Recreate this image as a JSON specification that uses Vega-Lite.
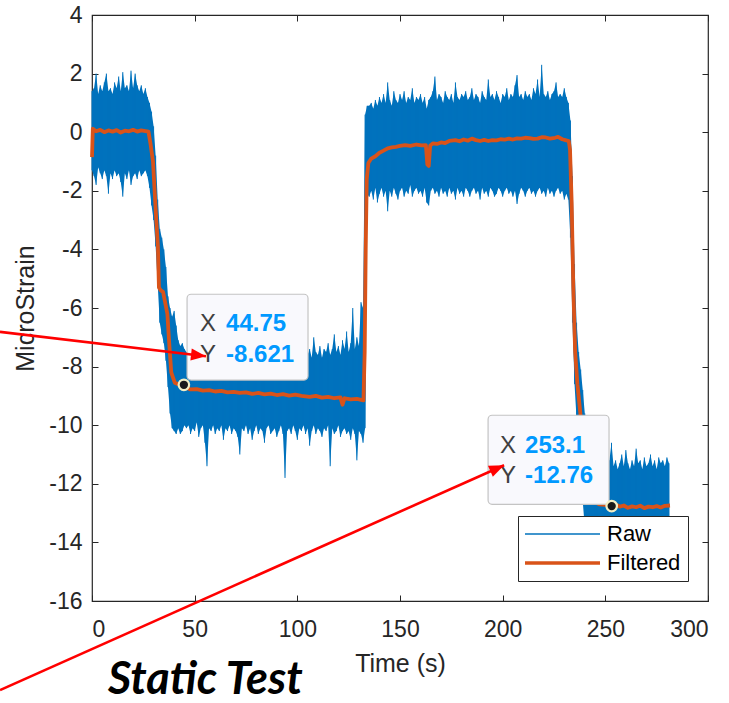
{
  "$schema": "https://vega.github.io/schema/vega-lite/v6.json",
  "width": 616,
  "height": 586,
  "autosize": {"type": "none"},
  "padding": {"left": 92, "top": 15, "right": 21, "bottom": 102},
  "background": "white",
  "title": {"text": "Static Test", "orient": "bottom", "anchor": "start", "frame": "group", "font": "Lato", "fontSize": 45, "fontWeight": "bold", "fontStyle": "italic", "color": "#000000", "dx": 16, "offset": -33},
  "config": {
    "view": {"stroke": "#262626", "strokeWidth": 1.2},
    "axis": {"grid": false, "domain": false, "tickColor": "#262626", "tickWidth": 1, "labelFont": "Liberation Sans", "titleFont": "Liberation Sans", "labelColor": "#262626", "titleColor": "#262626", "labelFontSize": 23, "titleFontSize": 25, "titleFontWeight": "normal"}
  },
  "datasets": {
    "raw": [
      {"t":0,"lo":-1.3,"hi":1.4},{"t":1,"lo":-1.5,"hi":1.5},{"t":2,"lo":-1.8,"hi":2.0},{"t":3,"lo":-1.2,"hi":1.3},{"t":4,"lo":-1.4,"hi":1.6},{"t":5,"lo":-1.6,"hi":1.4},{"t":6,"lo":-1.3,"hi":1.7},{"t":7,"lo":-1.5,"hi":2.0},{"t":8,"lo":-2.1,"hi":1.4},{"t":9,"lo":-1.4,"hi":1.5},
      {"t":10,"lo":-1.6,"hi":1.3},{"t":11,"lo":-1.3,"hi":1.7},{"t":12,"lo":-1.5,"hi":1.5},{"t":13,"lo":-1.4,"hi":1.9},{"t":14,"lo":-1.7,"hi":1.4},{"t":15,"lo":-2.2,"hi":2.05},{"t":16,"lo":-1.4,"hi":1.5},{"t":17,"lo":-1.6,"hi":1.6},{"t":18,"lo":-1.3,"hi":1.4},{"t":19,"lo":-1.8,"hi":2.1},
      {"t":20,"lo":-1.5,"hi":1.5},{"t":21,"lo":-1.4,"hi":2.0},{"t":22,"lo":-1.6,"hi":1.6},{"t":23,"lo":-1.3,"hi":1.4},{"t":24,"lo":-1.5,"hi":1.6},{"t":25,"lo":-1.4,"hi":1.3},{"t":26,"lo":-1.3,"hi":1.5},{"t":27,"lo":-1.5,"hi":1.2},{"t":28,"lo":-1.9,"hi":1.0},{"t":29,"lo":-2.5,"hi":0.7},
      {"t":30,"lo":-3.0,"hi":0.2},{"t":31,"lo":-3.9,"hi":-0.8},{"t":32,"lo":-5.2,"hi":-2.3},{"t":33,"lo":-6.5,"hi":-3.3},{"t":34,"lo":-6.9,"hi":-3.6},{"t":35,"lo":-7.2,"hi":-4.0},{"t":36,"lo":-7.8,"hi":-4.6},{"t":37,"lo":-8.7,"hi":-5.6},{"t":38,"lo":-9.6,"hi":-6.0},{"t":39,"lo":-10.1,"hi":-6.3},
      {"t":40,"lo":-10.2,"hi":-6.1},{"t":41,"lo":-10.3,"hi":-6.6},{"t":42,"lo":-10.1,"hi":-7.1},{"t":43,"lo":-10.3,"hi":-7.3},{"t":44,"lo":-10.2,"hi":-7.2},{"t":45,"lo":-10.0,"hi":-7.4},{"t":46,"lo":-10.1,"hi":-7.5},{"t":47,"lo":-10.0,"hi":-7.7},{"t":48,"lo":-10.3,"hi":-7.4},{"t":49,"lo":-10.1,"hi":-7.8},
      {"t":50,"lo":-10.2,"hi":-7.3},{"t":51,"lo":-9.9,"hi":-7.6},{"t":52,"lo":-10.4,"hi":-7.7},{"t":53,"lo":-10.1,"hi":-7.5},{"t":54,"lo":-10.0,"hi":-7.9},{"t":55,"lo":-10.6,"hi":-7.4},{"t":56,"lo":-11.4,"hi":-7.6},{"t":57,"lo":-10.1,"hi":-7.7},{"t":58,"lo":-10.2,"hi":-7.3},{"t":59,"lo":-10.0,"hi":-7.6},
      {"t":60,"lo":-10.3,"hi":-7.8},{"t":61,"lo":-10.1,"hi":-7.5},{"t":62,"lo":-10.2,"hi":-7.0},{"t":63,"lo":-10.0,"hi":-7.6},{"t":64,"lo":-10.5,"hi":-7.7},{"t":65,"lo":-10.1,"hi":-7.5},{"t":66,"lo":-10.2,"hi":-7.8},{"t":67,"lo":-10.0,"hi":-7.4},{"t":68,"lo":-10.3,"hi":-7.6},{"t":69,"lo":-10.1,"hi":-7.7},
      {"t":70,"lo":-10.2,"hi":-7.2},{"t":71,"lo":-10.4,"hi":-7.6},{"t":72,"lo":-11.0,"hi":-7.8},{"t":73,"lo":-10.1,"hi":-7.5},{"t":74,"lo":-10.2,"hi":-7.6},{"t":75,"lo":-10.0,"hi":-7.3},{"t":76,"lo":-10.3,"hi":-7.7},{"t":77,"lo":-10.1,"hi":-7.6},{"t":78,"lo":-10.5,"hi":-7.4},{"t":79,"lo":-10.2,"hi":-7.8},
      {"t":80,"lo":-10.0,"hi":-7.5},{"t":81,"lo":-10.3,"hi":-7.1},{"t":82,"lo":-10.1,"hi":-7.6},{"t":83,"lo":-10.2,"hi":-7.7},{"t":84,"lo":-10.6,"hi":-7.5},{"t":85,"lo":-10.1,"hi":-7.4},{"t":86,"lo":-10.0,"hi":-7.8},{"t":87,"lo":-10.3,"hi":-7.6},{"t":88,"lo":-10.2,"hi":-7.2},{"t":89,"lo":-10.1,"hi":-7.7},
      {"t":90,"lo":-10.4,"hi":-7.5},{"t":91,"lo":-10.2,"hi":-7.6},{"t":92,"lo":-10.0,"hi":-7.4},{"t":93,"lo":-10.3,"hi":-7.7},{"t":94,"lo":-11.8,"hi":-7.5},{"t":95,"lo":-10.2,"hi":-7.0},{"t":96,"lo":-10.1,"hi":-7.6},{"t":97,"lo":-10.3,"hi":-7.8},{"t":98,"lo":-10.0,"hi":-7.5},{"t":99,"lo":-10.2,"hi":-7.4},
      {"t":100,"lo":-10.5,"hi":-7.6},{"t":101,"lo":-10.1,"hi":-7.3},{"t":102,"lo":-10.2,"hi":-7.7},{"t":103,"lo":-10.0,"hi":-7.5},{"t":104,"lo":-10.3,"hi":-7.2},{"t":105,"lo":-10.1,"hi":-7.6},{"t":106,"lo":-10.7,"hi":-7.4},{"t":107,"lo":-10.2,"hi":-7.7},{"t":108,"lo":-10.0,"hi":-7.0},{"t":109,"lo":-10.3,"hi":-7.5},
      {"t":110,"lo":-10.1,"hi":-7.6},{"t":111,"lo":-10.2,"hi":-7.3},{"t":112,"lo":-10.4,"hi":-7.7},{"t":113,"lo":-10.1,"hi":-7.4},{"t":114,"lo":-10.2,"hi":-7.5},{"t":115,"lo":-10.0,"hi":-7.2},{"t":116,"lo":-11.4,"hi":-7.6},{"t":117,"lo":-10.1,"hi":-7.4},{"t":118,"lo":-10.3,"hi":-6.9},{"t":119,"lo":-10.2,"hi":-7.5},
      {"t":120,"lo":-10.0,"hi":-7.3},{"t":121,"lo":-10.4,"hi":-7.6},{"t":122,"lo":-10.2,"hi":-7.1},{"t":123,"lo":-10.1,"hi":-7.4},{"t":124,"lo":-10.3,"hi":-6.8},{"t":125,"lo":-10.2,"hi":-7.5},{"t":126,"lo":-10.5,"hi":-7.2},{"t":127,"lo":-10.1,"hi":-6.0},{"t":128,"lo":-10.3,"hi":-7.4},{"t":129,"lo":-11.2,"hi":-7.0},
      {"t":130,"lo":-10.2,"hi":-7.3},{"t":131,"lo":-10.3,"hi":-5.8},{"t":132,"lo":-10.6,"hi":-6.0},{"t":133,"lo":-10.1,"hi":0.6},{"t":134,"lo":-2.1,"hi":0.9},{"t":135,"lo":-2.2,"hi":0.9},{"t":136,"lo":-2.0,"hi":1.0},{"t":137,"lo":-2.3,"hi":0.8},{"t":138,"lo":-1.9,"hi":1.1},{"t":139,"lo":-2.4,"hi":0.9},
      {"t":140,"lo":-2.1,"hi":1.2},{"t":141,"lo":-1.9,"hi":1.0},{"t":142,"lo":-2.2,"hi":1.3},{"t":143,"lo":-2.0,"hi":1.0},{"t":144,"lo":-2.7,"hi":1.7},{"t":145,"lo":-2.0,"hi":1.1},{"t":146,"lo":-2.2,"hi":0.9},{"t":147,"lo":-1.9,"hi":1.4},{"t":148,"lo":-2.1,"hi":1.1},{"t":149,"lo":-2.3,"hi":1.0},
      {"t":150,"lo":-2.0,"hi":1.3},{"t":151,"lo":-1.9,"hi":1.1},{"t":152,"lo":-2.2,"hi":1.4},{"t":153,"lo":-2.0,"hi":1.0},{"t":154,"lo":-2.1,"hi":1.2},{"t":155,"lo":-1.8,"hi":1.1},{"t":156,"lo":-2.2,"hi":1.5},{"t":157,"lo":-2.0,"hi":1.0},{"t":158,"lo":-1.9,"hi":1.2},{"t":159,"lo":-2.1,"hi":1.1},
      {"t":160,"lo":-2.0,"hi":1.3},{"t":161,"lo":-2.2,"hi":1.0},{"t":162,"lo":-1.9,"hi":1.2},{"t":163,"lo":-2.4,"hi":0.8},{"t":164,"lo":-2.5,"hi":1.1},{"t":165,"lo":-2.0,"hi":1.2},{"t":166,"lo":-1.9,"hi":1.4},{"t":167,"lo":-2.1,"hi":1.9},{"t":168,"lo":-2.0,"hi":1.1},{"t":169,"lo":-2.2,"hi":1.3},
      {"t":170,"lo":-1.9,"hi":1.2},{"t":171,"lo":-2.1,"hi":1.0},{"t":172,"lo":-2.0,"hi":1.4},{"t":173,"lo":-2.2,"hi":1.2},{"t":174,"lo":-1.9,"hi":1.1},{"t":175,"lo":-2.1,"hi":1.3},{"t":176,"lo":-2.0,"hi":1.0},{"t":177,"lo":-2.3,"hi":1.7},{"t":178,"lo":-1.9,"hi":1.2},{"t":179,"lo":-2.1,"hi":1.1},
      {"t":180,"lo":-2.0,"hi":1.3},{"t":181,"lo":-2.2,"hi":1.2},{"t":182,"lo":-1.9,"hi":1.4},{"t":183,"lo":-2.0,"hi":1.1},{"t":184,"lo":-2.2,"hi":1.2},{"t":185,"lo":-2.0,"hi":1.5},{"t":186,"lo":-1.9,"hi":1.1},{"t":187,"lo":-2.1,"hi":1.3},{"t":188,"lo":-2.0,"hi":1.2},{"t":189,"lo":-2.3,"hi":1.0},
      {"t":190,"lo":-1.9,"hi":1.4},{"t":191,"lo":-2.1,"hi":1.2},{"t":192,"lo":-2.0,"hi":1.1},{"t":193,"lo":-2.2,"hi":1.8},{"t":194,"lo":-1.9,"hi":1.2},{"t":195,"lo":-2.0,"hi":1.3},{"t":196,"lo":-2.2,"hi":1.1},{"t":197,"lo":-2.1,"hi":1.4},{"t":198,"lo":-1.9,"hi":1.2},{"t":199,"lo":-2.0,"hi":1.0},
      {"t":200,"lo":-2.2,"hi":1.3},{"t":201,"lo":-2.0,"hi":1.2},{"t":202,"lo":-1.9,"hi":1.5},{"t":203,"lo":-2.1,"hi":1.1},{"t":204,"lo":-2.0,"hi":1.3},{"t":205,"lo":-2.2,"hi":1.2},{"t":206,"lo":-2.0,"hi":1.6},{"t":207,"lo":-2.45,"hi":1.95},{"t":208,"lo":-2.1,"hi":1.2},{"t":209,"lo":-1.9,"hi":1.3},
      {"t":210,"lo":-2.0,"hi":1.1},{"t":211,"lo":-2.2,"hi":1.4},{"t":212,"lo":-2.0,"hi":1.2},{"t":213,"lo":-1.9,"hi":1.3},{"t":214,"lo":-2.1,"hi":1.1},{"t":215,"lo":-2.0,"hi":1.5},{"t":216,"lo":-2.2,"hi":1.3},{"t":217,"lo":-2.0,"hi":1.8},{"t":218,"lo":-1.9,"hi":1.2},{"t":219,"lo":-2.1,"hi":2.3},
      {"t":220,"lo":-2.0,"hi":1.3},{"t":221,"lo":-2.2,"hi":1.2},{"t":222,"lo":-1.9,"hi":1.4},{"t":223,"lo":-2.1,"hi":1.1},{"t":224,"lo":-2.0,"hi":1.3},{"t":225,"lo":-2.2,"hi":1.4},{"t":226,"lo":-2.0,"hi":1.7},{"t":227,"lo":-1.9,"hi":1.2},{"t":228,"lo":-2.1,"hi":1.3},{"t":229,"lo":-2.0,"hi":1.2},
      {"t":230,"lo":-2.3,"hi":1.5},{"t":231,"lo":-2.1,"hi":1.2},{"t":232,"lo":-2.3,"hi":1.0},{"t":233,"lo":-3.6,"hi":0.4},{"t":234,"lo":-6.5,"hi":-1.5},{"t":235,"lo":-8.6,"hi":-4.5},{"t":236,"lo":-9.8,"hi":-6.5},{"t":237,"lo":-10.6,"hi":-7.5},{"t":238,"lo":-11.6,"hi":-8.1},{"t":239,"lo":-12.6,"hi":-8.8},
      {"t":240,"lo":-13.5,"hi":-9.6},{"t":241,"lo":-14.0,"hi":-10.2},{"t":242,"lo":-14.1,"hi":-10.9},{"t":243,"lo":-14.1,"hi":-11.3},{"t":244,"lo":-14.2,"hi":-11.5},{"t":245,"lo":-14.1,"hi":-11.2},{"t":246,"lo":-14.0,"hi":-11.4},{"t":247,"lo":-14.2,"hi":-11.3},{"t":248,"lo":-14.1,"hi":-11.5},{"t":249,"lo":-14.0,"hi":-11.1},
      {"t":250,"lo":-14.1,"hi":-11.4},{"t":251,"lo":-14.2,"hi":-11.3},{"t":252,"lo":-14.1,"hi":-11.2},{"t":253,"lo":-14.0,"hi":-10.6},{"t":254,"lo":-14.1,"hi":-11.4},{"t":255,"lo":-14.2,"hi":-11.2},{"t":256,"lo":-14.1,"hi":-11.5},{"t":257,"lo":-14.0,"hi":-11.3},{"t":258,"lo":-14.1,"hi":-11.0},{"t":259,"lo":-14.2,"hi":-11.4},
      {"t":260,"lo":-14.1,"hi":-10.85},{"t":261,"lo":-14.0,"hi":-11.3},{"t":262,"lo":-14.1,"hi":-11.5},{"t":263,"lo":-14.2,"hi":-11.2},{"t":264,"lo":-14.1,"hi":-11.4},{"t":265,"lo":-14.0,"hi":-10.8},{"t":266,"lo":-14.1,"hi":-11.3},{"t":267,"lo":-14.2,"hi":-11.2},{"t":268,"lo":-14.1,"hi":-11.5},{"t":269,"lo":-14.0,"hi":-11.1},
      {"t":270,"lo":-14.1,"hi":-11.4},{"t":271,"lo":-14.2,"hi":-11.3},{"t":272,"lo":-14.1,"hi":-11.0},{"t":273,"lo":-14.0,"hi":-11.4},{"t":274,"lo":-14.1,"hi":-11.2},{"t":275,"lo":-14.2,"hi":-11.5},{"t":276,"lo":-14.1,"hi":-11.1},{"t":277,"lo":-14.0,"hi":-11.3},{"t":278,"lo":-14.1,"hi":-11.2},{"t":279,"lo":-14.2,"hi":-11.4},
      {"t":280,"lo":-14.1,"hi":-11.1},{"t":281,"lo":-14.0,"hi":-11.3}
    ],
    "filt": [
      {"t":0,"v":-0.85},{"t":0.4,"v":0.12},{"t":2,"v":0.03},{"t":4,"v":0.08},{"t":6,"v":0.0},{"t":8,"v":0.06},{"t":10,"v":0.02},{"t":12,"v":0.07},{"t":14,"v":-0.01},{"t":16,"v":0.05},{"t":18,"v":0.03},{"t":20,"v":0.08},{"t":22,"v":0.02},{"t":24,"v":0.06},{"t":26,"v":0.04},{"t":27.5,"v":0.02},{"t":28.5,"v":-0.4},{"t":29.7,"v":-1.0},{"t":30.5,"v":-2.0},{"t":31.3,"v":-3.0},{"t":32.1,"v":-3.9},{"t":32.6,"v":-5.3},{"t":33.5,"v":-5.4},{"t":34.6,"v":-5.45},{"t":35.6,"v":-5.8},{"t":36.7,"v":-6.2},{"t":37.7,"v":-7.3},{"t":38.6,"v":-8.2},{"t":40.3,"v":-8.55},{"t":42.5,"v":-8.62},{"t":44.75,"v":-8.621},
      {"t":46,"v":-8.72},{"t":48,"v":-8.78},{"t":51,"v":-8.77},{"t":54,"v":-8.82},{"t":57,"v":-8.8},{"t":60,"v":-8.85},{"t":63,"v":-8.83},{"t":66,"v":-8.88},{"t":69,"v":-8.86},{"t":72,"v":-8.9},{"t":75,"v":-8.88},{"t":78,"v":-8.93},{"t":81,"v":-8.9},{"t":84,"v":-8.95},{"t":87,"v":-8.92},{"t":90,"v":-8.97},{"t":93,"v":-8.94},{"t":96,"v":-8.99},{"t":99,"v":-8.96},{"t":102,"v":-9.0},{"t":106,"v":-9.03},{"t":109,"v":-9.0},{"t":112,"v":-9.06},{"t":115,"v":-9.03},{"t":118,"v":-9.08},{"t":121,"v":-9.05},{"t":122,"v":-9.3},{"t":123,"v":-9.08},{"t":126,"v":-9.12},{"t":129,"v":-9.1},{"t":132.2,"v":-9.15},
      {"t":132.8,"v":-7.5},{"t":133.3,"v":-4.0},{"t":133.8,"v":-1.6},{"t":134.6,"v":-1.05},{"t":136,"v":-0.9},{"t":138,"v":-0.82},{"t":140,"v":-0.7},{"t":142,"v":-0.63},{"t":144,"v":-0.55},{"t":146,"v":-0.52},{"t":148,"v":-0.5},{"t":150,"v":-0.47},{"t":152.5,"v":-0.44},{"t":155,"v":-0.47},{"t":158,"v":-0.42},{"t":160.5,"v":-0.45},{"t":162.6,"v":-0.44},{"t":163.3,"v":-1.1},{"t":164,"v":-1.15},{"t":164.7,"v":-0.46},{"t":166,"v":-0.38},{"t":168,"v":-0.4},{"t":170,"v":-0.35},{"t":172,"v":-0.37},{"t":174,"v":-0.3},{"t":177,"v":-0.27},{"t":179,"v":-0.31},{"t":181,"v":-0.25},{"t":183,"v":-0.29},{"t":185,"v":-0.22},{"t":187,"v":-0.27},{"t":189,"v":-0.3},{"t":191,"v":-0.26},{"t":193,"v":-0.3},{"t":195,"v":-0.27},{"t":197,"v":-0.28},{"t":199,"v":-0.24},{"t":201,"v":-0.25},{"t":203,"v":-0.22},{"t":205,"v":-0.25},{"t":207,"v":-0.21},{"t":209,"v":-0.22},{"t":211,"v":-0.19},{"t":213,"v":-0.2},{"t":215,"v":-0.23},{"t":217,"v":-0.22},{"t":219,"v":-0.17},{"t":221,"v":-0.18},{"t":223,"v":-0.22},{"t":225.5,"v":-0.19},{"t":227,"v":-0.16},{"t":229,"v":-0.24},{"t":231,"v":-0.28},{"t":232.2,"v":-0.3},
      {"t":232.8,"v":-0.6},{"t":233.6,"v":-2.4},{"t":234.4,"v":-5.3},{"t":235.3,"v":-7.5},{"t":236.4,"v":-8.6},{"t":237.7,"v":-9.5},{"t":239,"v":-10.5},{"t":240.5,"v":-11.6},{"t":242,"v":-12.3},{"t":244,"v":-12.6},{"t":247,"v":-12.7},{"t":250,"v":-12.72},{"t":253.1,"v":-12.76},{"t":255,"v":-12.7},{"t":257,"v":-12.78},{"t":259,"v":-12.74},{"t":261,"v":-12.82},{"t":263,"v":-12.77},{"t":265,"v":-12.8},{"t":267,"v":-12.75},{"t":269,"v":-12.83},{"t":271,"v":-12.78},{"t":273,"v":-12.8},{"t":275,"v":-12.76},{"t":277,"v":-12.81},{"t":279,"v":-12.75},{"t":281.5,"v":-12.74}
    ],
    "tips": [{"t":44.75,"v":-8.621},{"t":253.1,"v":-12.76}],
    "boxes": [{"x1":46.3,"x2":105.2,"y1":-5.53,"y2":-8.46},{"x1":192.9,"x2":251.8,"y1":-9.66,"y2":-12.70}],
    "tipLab": [{"t":52.6,"v":-6.55,"s":"X"},{"t":52.6,"v":-7.61,"s":"Y"},{"t":198.7,"v":-10.72,"s":"X"},{"t":198.7,"v":-11.74,"s":"Y"}],
    "tipVal": [{"t":65.3,"v":-6.55,"s":"44.75"},{"t":65.3,"v":-7.61,"s":"-8.621"},{"t":210.9,"v":-10.72,"s":"253.1"},{"t":210.9,"v":-11.74,"s":"-12.76"}],
    "arrows": [{"id":1,"t":-44.81,"v":-6.816,"t2":55.5,"v2":-7.645},{"id":2,"t":-44.81,"v":-19.04,"t2":200.7,"v2":-11.365}]
  },
  "layer": [
    {
      "data": {"name": "raw"},
      "mark": {"type": "area", "color": "#0072BD", "opacity": 1, "interpolate": "linear"},
      "encoding": {
        "x": {"field": "t", "type": "quantitative", "scale": {"domain": [0, 300], "nice": false, "zero": false}, "axis": null},
        "y": {"field": "lo", "type": "quantitative", "scale": {"domain": [-16, 4], "nice": false, "zero": false}, "axis": null},
        "y2": {"field": "hi"}
      }
    },
    {
      "data": {"name": "raw"},
      "mark": {"type": "rule", "strokeWidth": 1, "strokeCap": "butt"},
      "encoding": {
        "x": {"field": "t", "type": "quantitative", "scale": {"domain": [0, 300], "nice": false, "zero": false}, "axis": {"orient": "bottom", "values": [0, 50, 100, 150, 200, 250, 300], "tickSize": -6, "labelPadding": 23, "title": "Time (s)", "titlePadding": 10}},
        "y": {"field": "lo", "type": "quantitative", "scale": {"domain": [-16, 4], "nice": false, "zero": false}, "axis": {"orient": "left", "values": [-16, -14, -12, -10, -8, -6, -4, -2, 0, 2, 4], "tickSize": -6, "labelPadding": 16, "title": "MicroStrain", "titlePadding": 10, "labelExpr": "datum.value < 0 ? '-' + abs(datum.value) : '' + datum.value"}},
        "y2": {"field": "hi"},
        "color": {"datum": "Raw", "scale": {"domain": ["Raw", "Filtered"], "range": ["#0072BD", "#D95319"]}, "legend": {"title": null, "orient": "bottom-right", "offset": 20, "padding": 7, "symbolType": "M-1,0H6.5", "symbolSize": 400, "symbolOffset": -1, "labelOffset": 61, "labelFontSize": 22, "labelFont": "Liberation Sans", "labelColor": "#000000", "labelLimit": 0, "strokeColor": "#262626", "fillColor": "#ffffff", "rowPadding": 7, "symbolStrokeWidth": 2, "encode": {"symbols": {"update": {"strokeWidth": {"signal": "datum.value === 'Raw' ? 1.3 : 3.5"}, "fill": {"value": "transparent"}}}}}}
      }
    },
    {
      "data": {"name": "filt"},
      "mark": {"type": "line", "strokeWidth": 3.8, "strokeJoin": "round"},
      "encoding": {
        "x": {"field": "t", "type": "quantitative", "scale": {"domain": [0, 300], "nice": false, "zero": false}, "axis": {"orient": "top", "values": [0, 50, 100, 150, 200, 250, 300], "tickSize": -6, "labels": false, "title": null}},
        "y": {"field": "v", "type": "quantitative", "scale": {"domain": [-16, 4], "nice": false, "zero": false}, "axis": {"orient": "right", "values": [-16, -14, -12, -10, -8, -6, -4, -2, 0, 2, 4], "tickSize": -6, "labels": false, "title": null}},
        "color": {"datum": "Filtered", "scale": {"domain": ["Raw", "Filtered"], "range": ["#0072BD", "#D95319"]}}
      }
    },
    {
      "data": {"name": "boxes"},
      "mark": {"type": "rect", "fill": "#F9F9FD", "stroke": "#C4C4C4", "strokeWidth": 1.2, "cornerRadius": 4},
      "encoding": {
        "x": {"field": "x1", "type": "quantitative", "scale": {"domain": [0, 300], "nice": false, "zero": false}, "axis": null},
        "x2": {"field": "x2"},
        "y": {"field": "y1", "type": "quantitative", "scale": {"domain": [-16, 4], "nice": false, "zero": false}, "axis": null},
        "y2": {"field": "y2"}
      }
    },
    {
      "data": {"name": "tipLab"},
      "mark": {"type": "text", "align": "left", "baseline": "middle", "font": "Liberation Sans", "fontSize": 24, "color": "#404040"},
      "encoding": {
        "x": {"field": "t", "type": "quantitative", "scale": {"domain": [0, 300], "nice": false, "zero": false}, "axis": null},
        "y": {"field": "v", "type": "quantitative", "scale": {"domain": [-16, 4], "nice": false, "zero": false}, "axis": null},
        "text": {"field": "s"}
      }
    },
    {
      "data": {"name": "tipVal"},
      "mark": {"type": "text", "align": "left", "baseline": "middle", "font": "Liberation Sans", "fontSize": 24, "fontWeight": "bold", "color": "#0099FF"},
      "encoding": {
        "x": {"field": "t", "type": "quantitative", "scale": {"domain": [0, 300], "nice": false, "zero": false}, "axis": null},
        "y": {"field": "v", "type": "quantitative", "scale": {"domain": [-16, 4], "nice": false, "zero": false}, "axis": null},
        "text": {"field": "s"}
      }
    },
    {
      "data": {"name": "tips"},
      "mark": {"type": "point", "filled": true, "opacity": 1, "size": 110, "fill": "#1A1A1A", "stroke": "#F3EEC4", "strokeWidth": 2.2},
      "encoding": {
        "x": {"field": "t", "type": "quantitative", "scale": {"domain": [0, 300], "nice": false, "zero": false}, "axis": null},
        "y": {"field": "v", "type": "quantitative", "scale": {"domain": [-16, 4], "nice": false, "zero": false}, "axis": null}
      }
    },
    {
      "data": {"name": "arrows"},
      "mark": {"type": "rule", "color": "#FF0000", "strokeWidth": 2.6, "clip": false},
      "encoding": {
        "x": {"field": "t", "type": "quantitative", "scale": {"domain": [0, 300], "nice": false, "zero": false}, "axis": null},
        "y": {"field": "v", "type": "quantitative", "scale": {"domain": [-16, 4], "nice": false, "zero": false}, "axis": null},
        "x2": {"field": "t2"},
        "y2": {"field": "v2"}
      }
    },
    {
      "data": {"name": "arrows"},
      "transform": [{"filter": "datum.id == 1"}],
      "mark": {"type": "point", "shape": "M0,0L-2,-0.8L-2,0.8Z", "filled": true, "opacity": 1, "size": 225, "angle": 6.7, "color": "#FF0000", "clip": false},
      "encoding": {
        "x": {"field": "t2", "type": "quantitative", "scale": {"domain": [0, 300], "nice": false, "zero": false}, "axis": null},
        "y": {"field": "v2", "type": "quantitative", "scale": {"domain": [-16, 4], "nice": false, "zero": false}, "axis": null}
      }
    },
    {
      "data": {"name": "arrows"},
      "transform": [{"filter": "datum.id == 2"}],
      "mark": {"type": "point", "shape": "M0,0L-2,-0.8L-2,0.8Z", "filled": true, "opacity": 1, "size": 225, "angle": -24, "color": "#FF0000", "clip": false},
      "encoding": {
        "x": {"field": "t2", "type": "quantitative", "scale": {"domain": [0, 300], "nice": false, "zero": false}, "axis": null},
        "y": {"field": "v2", "type": "quantitative", "scale": {"domain": [-16, 4], "nice": false, "zero": false}, "axis": null}
      }
    }
  ],
  "resolve": {"axis": {"x": "independent", "y": "independent"}}
}
